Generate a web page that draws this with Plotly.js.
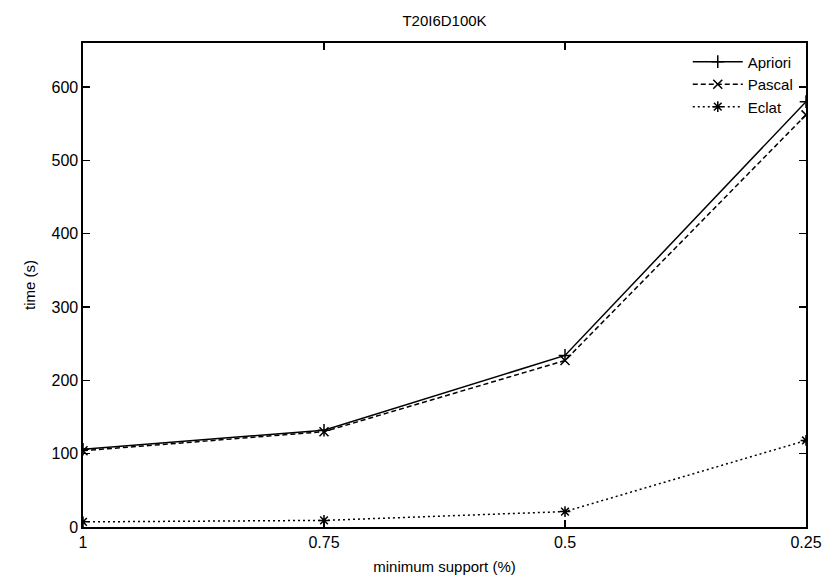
<!DOCTYPE html>
<html>
<head>
<meta charset="utf-8">
<script src="https://cdn.plot.ly/plotly-3.0.1.min.js"></script>
<style>html,body{margin:0;padding:0;background:#fff;}#chart{width:824px;height:579px;}</style>
</head>
<body>
<div id="chart"></div>
<script>
const support = [1, 0.75, 0.5, 0.25];
const supportLabels = ["1", "0.75", "0.5", "0.25"];
const apriori = [106, 132, 234, 580];
const pascal = [104, 130, 227, 562];
const eclat = [7, 9, 21, 118];

const font = "Liberation Sans, Arial, Helvetica, sans-serif";

function series(name, y, dash, symbol) {
  return {
    x: support, y: y, name: name, type: "scatter", mode: "lines+markers",
    line: {color: "#000", width: 1.5, dash: dash},
    marker: {symbol: symbol, size: 9, color: "#000", line: {color: "#000", width: 1.5}}
  };
}

const data = [
  series("Apriori", apriori, "solid", "cross-thin-open"),
  series("Pascal", pascal, "5px,3px", "x-thin-open"),
  series("Eclat", eclat, "2px,3px", "asterisk-open")
];

const axisCommon = {
  showgrid: false, zeroline: false, showline: true, linecolor: "#000", linewidth: 1.6,
  mirror: "ticks", ticks: "inside", ticklen: 7, tickwidth: 1.6, tickcolor: "#000",
  tickfont: {family: font, size: 16, color: "#000"}
};

const layout = {
  width: 824, height: 579,
  margin: {l: 83, r: 18, t: 43, b: 52},
  paper_bgcolor: "#fff", plot_bgcolor: "#fff",
  font: {family: font, color: "#000"},
  title: {text: "T20I6D100K", font: {family: font, size: 15, color: "#000"},
          x: 0.5, xref: "paper", xanchor: "center", y: 0.964, yref: "container", yanchor: "middle"},
  xaxis: Object.assign({}, axisCommon, {
    range: [1, 0.25], tickmode: "array", tickvals: support, ticktext: supportLabels,
    title: {text: "minimum support (%)", font: {family: font, size: 15, color: "#000"}, standoff: 12}
  }),
  yaxis: Object.assign({}, axisCommon, {
    range: [0, 660], dtick: 100, tick0: 0,
    title: {text: "time (s)", font: {family: font, size: 15, color: "#000"}, standoff: 12}
  }),
  showlegend: true,
  legend: {x: 0.99, y: 0.995, xanchor: "right", yanchor: "top", bgcolor: "rgba(0,0,0,0)",
           font: {family: font, size: 15, color: "#000"}, itemwidth: 50, tracegroupgap: 0}
};

Plotly.newPlot("chart", data, layout, {displayModeBar: false, staticPlot: true});
</script>
</body>
</html>
